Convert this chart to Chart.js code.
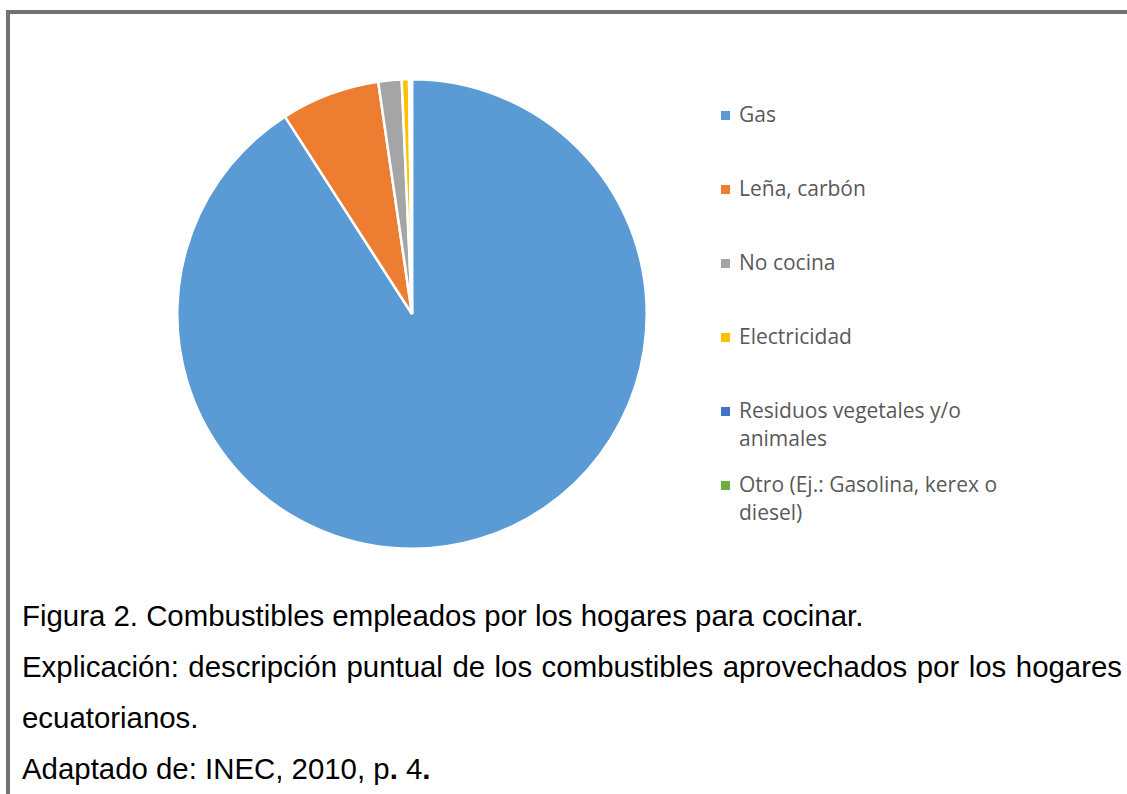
<!DOCTYPE html>
<html>
<head>
<meta charset="utf-8">
<script src="https://cdn.jsdelivr.net/npm/chart.js@4/dist/chart.umd.min.js"></script>
<style>
  html, body { margin:0; padding:0; background:#fff; }
  body { width:1127px; height:794px; position:relative; overflow:hidden; }
  #frameTop { position:absolute; left:6px; top:10px; width:1121px; height:4px; background:#767171; }
  #frameLeft { position:absolute; left:6px; top:10px; width:4px; height:784px; background:#767171; }
  #pieWrap { position:absolute; left:176px; top:78px; width:472px; height:472px; }
  #legend { position:absolute; left:721px; top:101px; width:300px; font-family:"Open Sans", sans-serif; font-size:21px; color:#595959; }
  .li { position:absolute; left:0; width:300px; }
  .sw { position:absolute; left:0; top:10px; width:9px; height:9px; }
  .tx { position:absolute; left:18px; top:-1px; width:285px; line-height:28px; }
  #caption { position:absolute; left:22px; top:590px; width:1100px; font-family:"Liberation Sans", Arial, sans-serif; font-size:29.4px; color:#000; }
  #caption p { margin:0; line-height:51px; }
  .just { text-align:justify; }
</style>
</head>
<body>
<div id="frameTop"></div>
<div id="frameLeft"></div>
<div id="pieWrap"><canvas id="c"></canvas></div>
<div id="legend"></div>
<div id="caption">
  <p>Figura 2. Combustibles empleados por los hogares para cocinar.</p>
  <p class="just">Explicación: descripción puntual de los combustibles aprovechados por los hogares ecuatorianos.</p>
  <p>Adaptado de: INEC, 2010, p<b>.</b> 4<b>.</b></p>
</div>
<script>
const categories = ["Gas", "Leña, carbón", "No cocina", "Electricidad", "Residuos vegetales y/o animales", "Otro (Ej.: Gasolina, kerex o diesel)"];
const values = [90.9, 6.8, 1.6, 0.5, 0.1, 0.1];
const colors = ["#5B9BD5", "#ED7D31", "#A5A5A5", "#FFC000", "#4472C4", "#70AD47"];

const legendTops = [0, 74, 148, 222, 296, 370];
const leg = document.getElementById('legend');
categories.forEach((name, i) => {
  const d = document.createElement('div');
  d.className = 'li';
  d.style.top = legendTops[i] + 'px';
  d.innerHTML = '<div class="sw" style="background:' + colors[i] + '"></div><div class="tx"></div>';
  d.querySelector('.tx').textContent = name;
  leg.appendChild(d);
});

new Chart(document.getElementById('c'), {
  type: 'pie',
  data: {
    labels: categories,
    datasets: [{ data: values, backgroundColor: colors, borderColor: '#ffffff', borderWidth: 2.5 }]
  },
  options: {
    responsive: true,
    maintainAspectRatio: false,
    animation: false,
    layout: { padding: 0 },
    plugins: { legend: { display: false }, tooltip: { enabled: false } }
  }
});
</script>
</body>
</html>
